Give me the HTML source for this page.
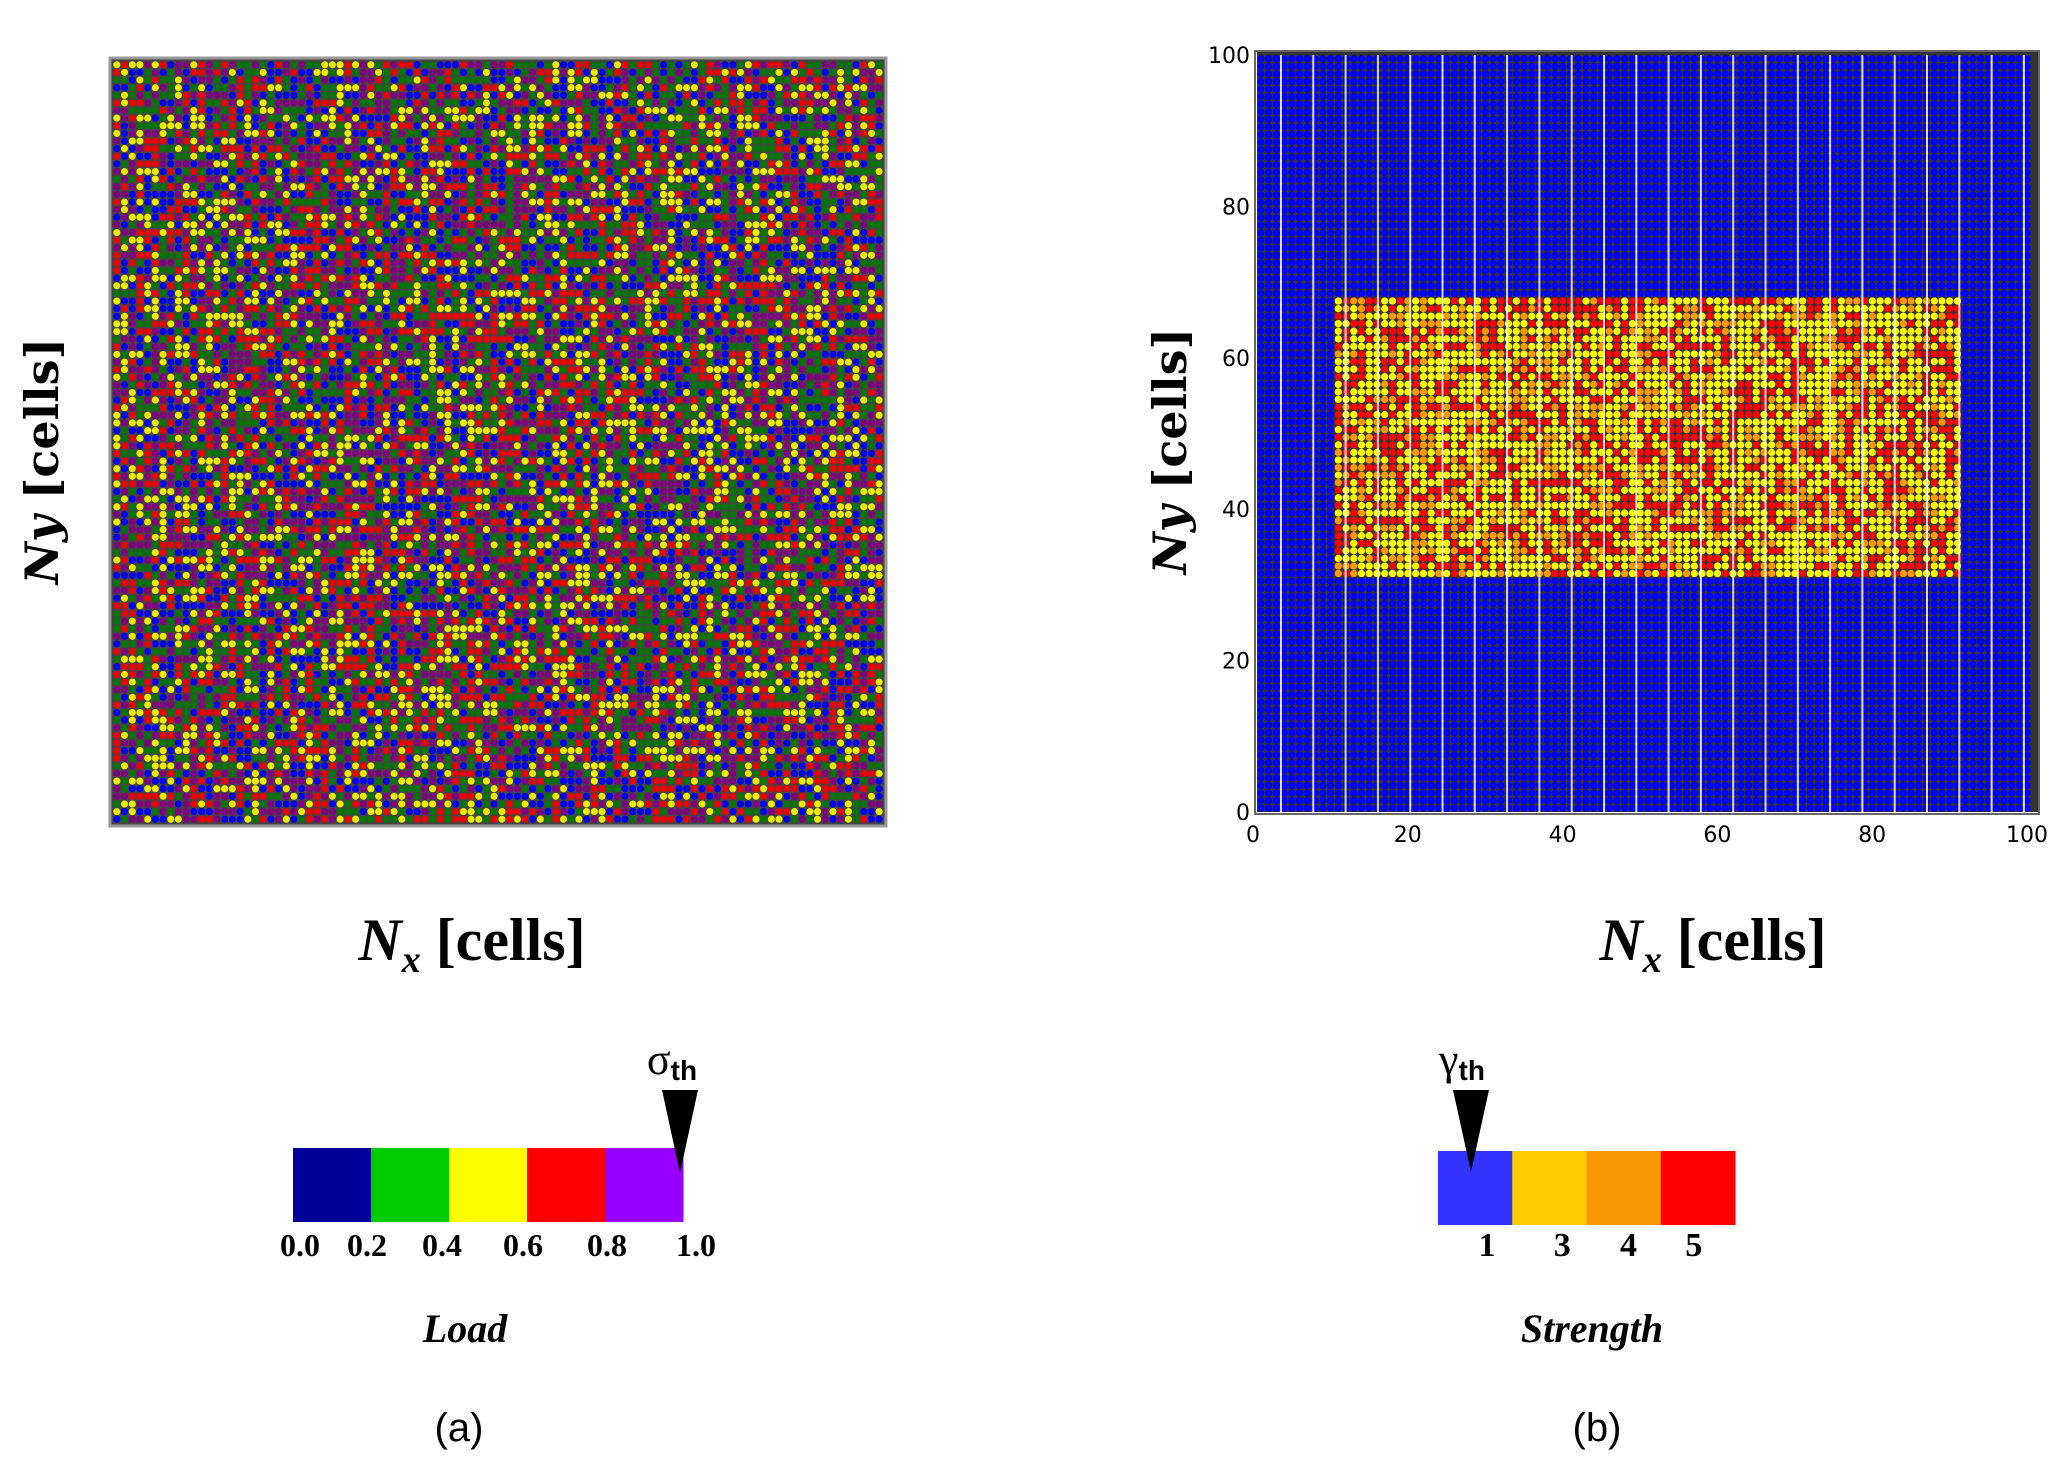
<!DOCTYPE html>
<html><head><meta charset="utf-8">
<style>
html,body{margin:0;padding:0;background:#fff;}
body{width:2067px;height:1464px;position:relative;overflow:hidden;}
svg{position:absolute;left:0;top:0;}
</style></head>
<body>
<svg id="fig" width="2067" height="1464" viewBox="0 0 2067 1464">
  <g id="left"></g>
  <g id="right"></g>
  <g id="rticks"></g>

  <text x="472" y="960" font-family="Liberation Serif, serif" font-size="60" font-weight="bold" text-anchor="middle"><tspan font-style="italic">N</tspan><tspan font-style="italic" font-size="38" dy="12">x</tspan><tspan dy="-12"> [cells]</tspan></text>
  <text x="1713" y="960" font-family="Liberation Serif, serif" font-size="60" font-weight="bold" text-anchor="middle"><tspan font-style="italic">N</tspan><tspan font-style="italic" font-size="38" dy="12">x</tspan><tspan dy="-12"> [cells]</tspan></text>
  <text transform="translate(58,461) rotate(-90)" font-family="DejaVu Serif, serif" font-size="46" font-weight="bold" text-anchor="middle"><tspan font-style="italic">Ny</tspan> [cells]</text>
  <text transform="translate(1186,451) rotate(-90)" font-family="DejaVu Serif, serif" font-size="46" font-weight="bold" text-anchor="middle"><tspan font-style="italic">Ny</tspan> [cells]</text>

  <g id="cbA"></g>
  <g id="cbB"></g>

  <text x="672" y="1074" font-family="Liberation Serif, serif" font-size="44" text-anchor="middle">σ<tspan font-family="Liberation Sans, sans-serif" font-weight="bold" font-size="28" dy="6">th</tspan></text>
  <polygon points="662,1090 698,1090 680,1173" fill="#000"/>
  <text x="1462" y="1074" font-family="Liberation Serif, serif" font-size="44" text-anchor="middle">γ<tspan font-family="Liberation Sans, sans-serif" font-weight="bold" font-size="28" dy="6">th</tspan></text>
  <polygon points="1453,1090 1489,1090 1471,1172" fill="#000"/>

  <text x="465" y="1342" font-family="Liberation Serif, serif" font-size="40" font-weight="bold" font-style="italic" text-anchor="middle">Load</text>
  <text x="1592" y="1342" font-family="Liberation Serif, serif" font-size="40" font-weight="bold" font-style="italic" text-anchor="middle">Strength</text>
  <text x="459" y="1441" font-family="Liberation Sans, sans-serif" font-size="40" text-anchor="middle">(a)</text>
  <text x="1597" y="1441" font-family="Liberation Sans, sans-serif" font-size="40" text-anchor="middle">(b)</text>
</svg>
<script>
var NS='http://www.w3.org/2000/svg';
function mk(tag,attrs,parent){var e=document.createElementNS(NS,tag);for(var k in attrs)e.setAttribute(k,attrs[k]);parent.appendChild(e);return e;}

// ---- data ----
var gridN = 100;
var loadColors = ['#0000ee','#007700','#eeee00','#ee0000','#800080'];
var strengthColors = ['#0000ff','#ffff00','#ff9900','#ff0000'];
var strengthLevels = [1,3,4,5];
var regionX = [10, 91];
var regionY = [31, 68];
var xTicks = [0,20,40,60,80,100];
var yTicks = [0,20,40,60,80,100];
var loadTicks = ['0.0','0.2','0.4','0.6','0.8','1.0'];
var strengthTickLabels = ['1','3','4','5'];
var seed = 987654321;
function nextVal(){seed^=seed<<13;seed^=seed>>>17;seed^=seed<<5;return ((seed>>>0)%100000)/100000;}
var loadGrid=[];for(var i=0;i<gridN*gridN;i++)loadGrid.push(Math.floor(nextVal()*5));
var strGrid=[];for(var i=0;i<gridN*gridN;i++){var r=nextVal();strGrid.push(r<0.5?1:(r<0.8?3:2));}

// ---- left panel ----
var L={x0:113,x1:883,y0:61,y1:823};
var left=document.getElementById('left');
var fr=mk('rect',{x:L.x0-3,y:L.y0-3,width:L.x1-L.x0+6,height:L.y1-L.y0+6,fill:'#444',stroke:'#999','stroke-width':3},left);


function lx(i){return L.x0+(i+0.5)*(L.x1-L.x0)/gridN;}
function ly(j){return L.y1-(j+0.5)*(L.y1-L.y0)/gridN;}
var lr=(L.x1-L.x0)/gridN*0.46;
for(var j=0;j<gridN;j++)for(var i=0;i<gridN;i++){
  mk('circle',{cx:lx(i).toFixed(1),cy:ly(j).toFixed(1),r:lr.toFixed(2),fill:loadColors[loadGrid[j*gridN+i]]},left);
}

// ---- right panel ----
var R={x0:1257,x1:2031,y0:55,y1:812};
var right=document.getElementById('right');
var bg=mk('rect',{x:R.x0,y:R.y0-4,width:R.x1-R.x0+8,height:R.y1-R.y0+4,fill:'#333'},right);


function rx(v){return R.x0+v*(R.x1-R.x0)/100;}
function ry(v){return R.y1-v*(R.y1-R.y0)/100;}
var rr=(R.x1-R.x0)/gridN*0.47;
for(var j=0;j<gridN;j++)for(var i=0;i<gridN;i++){
  var inside=i>=regionX[0]&&i<regionX[1]&&j>=regionY[0]&&j<regionY[1];
  var col=inside?strengthColors[strGrid[j*gridN+i]]:strengthColors[0];
  mk('circle',{cx:rx(i+0.5).toFixed(1),cy:ry(j+0.5).toFixed(1),r:rr.toFixed(2),fill:col},right);
}
for(var k=0;k<24;k++){
  var xx=1281+k*32.3;if(xx>R.x1)break;
  mk('line',{x1:xx,x2:xx,y1:R.y0,y2:R.y1,stroke:'#fff','stroke-width':2,opacity:0.85},right);
}
var ax=document.getElementById('rticks');
var box=mk('rect',{x:R.x0-2,y:R.y0-4,width:R.x1-R.x0+10,height:R.y1-R.y0+6,fill:'none',stroke:'#666','stroke-width':2},ax);


xTicks.forEach(function(t){
  var tl=mk('text',{x:rx(t)-4,y:842,'font-family':'DejaVu Sans, sans-serif','font-size':22,'text-anchor':'middle'},ax);
  tl.textContent=t;
  
  
});
yTicks.forEach(function(t){
  var tl=mk('text',{x:1250,y:ry(t)+8,'font-family':'DejaVu Sans, sans-serif','font-size':22,'text-anchor':'end'},ax);
  tl.textContent=t;
  
  
});

// ---- colorbars ----
var cbA=document.getElementById('cbA');
var cbAcols=['#000099','#00cc00','#ffff00','#ff0000','#9900ff'];
var A={x0:293,x1:683,y0:1148,y1:1222};
function ax1(v){return A.x0+v*(A.x1-A.x0);}
cbAcols.forEach(function(c,i){
  var r=mk('rect',{x:ax1(i/5),y:A.y0,width:(A.x1-A.x0)/5+0.5,height:A.y1-A.y0,fill:c},cbA);
  
  
});
loadTicks.forEach(function(t,i){
  var tl=mk('text',{x:ax1(i/5)+[7,-4,-7,-4,2,13][i],y:1256,'font-family':'Liberation Serif, serif','font-size':32,'font-weight':'bold','text-anchor':'middle'},cbA);
  tl.textContent=t;
  
  
});
var cbB=document.getElementById('cbB');
var B={x0:1438,x1:1735,y0:1151,y1:1225};
function bx(v){return B.x0+v*(B.x1-B.x0);}
var cbBcols=['#3333ff','#ffcc00','#f79a00','#ff0000'];
cbBcols.forEach(function(c,i){
  var r=mk('rect',{x:bx(i/4),y:B.y0,width:(B.x1-B.x0)/4+0.5,height:B.y1-B.y0,fill:c},cbB);
  
  
});
strengthTickLabels.forEach(function(t,i){
  var tl=mk('text',{x:bx(i/4)+[49,50,42,33][i],y:1256,'font-family':'Liberation Serif, serif','font-size':34,'font-weight':'bold','text-anchor':'middle'},cbB);
  tl.textContent=t;
  
  
});
</script>
</body></html>
